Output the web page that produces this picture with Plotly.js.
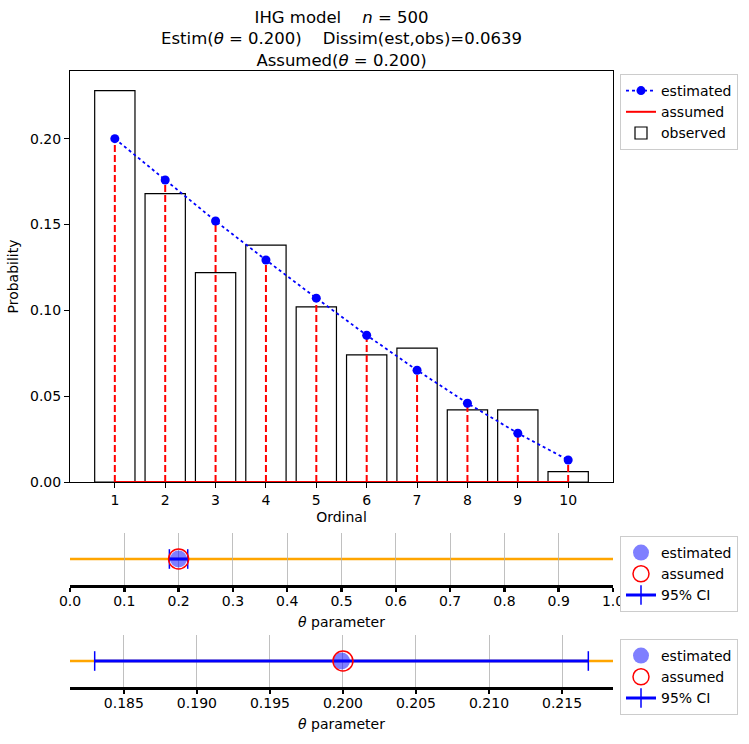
<!DOCTYPE html>
<html>
<head>
<meta charset="utf-8">
<script src="https://cdn.plot.ly/plotly-3.0.1.min.js"></script>
<style>html,body{margin:0;padding:0;background:#fff}#chart{width:749px;height:744px}</style>
</head>
<body>
<div id="chart"></div>
<script>
// ---- data ----
const ordinals = [1, 2, 3, 4, 5, 6, 7, 8, 9, 10];
const observed = [0.228, 0.168, 0.122, 0.138, 0.102, 0.074, 0.078, 0.042, 0.042, 0.006];
const estimated = [0.2000, 0.1759, 0.1520, 0.1293, 0.1071, 0.0855, 0.0651, 0.0459, 0.0284, 0.0128];
const assumed = [0.2000, 0.1759, 0.1520, 0.1293, 0.1071, 0.0855, 0.0651, 0.0459, 0.0284, 0.0128];
const thetaEst = [0.1999];
const thetaAssumed = [0.200];
const ciLow = [0.1830];
const ciHigh = [0.2168];
const panelY = [0];

// ---- helpers ----
const stemX = [], stemY = [];
ordinals.forEach((o, i) => { stemX.push(o, o, null); stemY.push(0, assumed[i], null); });
const baseX = [ordinals[0], ordinals[ordinals.length - 1]];
const baseY = [0, 0];
const ciSpan = ciHigh[0] - ciLow[0];
const zoomRange = [ciLow[0] - 0.05 * ciSpan, ciHigh[0] + 0.05 * ciSpan];

const F = 'DejaVu Sans, sans-serif';
const blue = '#0000ff', red = '#ff0000';

const traces = [
  {type: 'bar', x: ordinals, y: observed, width: 0.8, name: 'observed',
   marker: {color: 'rgba(255,255,255,1)', line: {color: '#000', width: 1.2}},
   xaxis: 'x', yaxis: 'y', legend: 'legend', legendrank: 3, hoverinfo: 'x+y'},
  {type: 'scatter', mode: 'lines', x: stemX, y: stemY, name: 'assumed stems',
   line: {color: red, width: 2, dash: '7px,3px'}, showlegend: false,
   xaxis: 'x', yaxis: 'y'},
  {type: 'scatter', mode: 'lines', x: baseX, y: baseY, name: 'assumed',
   line: {color: red, width: 2}, xaxis: 'x', yaxis: 'y', legend: 'legend', legendrank: 2},
  {type: 'scatter', mode: 'lines+markers', x: ordinals, y: estimated, name: 'estimated',
   line: {color: blue, width: 1.8, dash: 'dot'}, marker: {color: blue, size: 9},
   xaxis: 'x', yaxis: 'y', legend: 'legend', legendrank: 1},

  // panel 2
  {type: 'scatter', mode: 'lines+markers', x: [ciLow[0], ciHigh[0]], y: [panelY[0], panelY[0]], name: '95% CI',
   line: {color: blue, width: 3}, marker: {symbol: 'line-ns-open', size: 14, color: blue, line: {color: blue, width: 1.5}},
   xaxis: 'x2', yaxis: 'y2', legend: 'legend2', legendrank: 3},
  {type: 'scatter', mode: 'markers', x: thetaEst, y: panelY, name: 'estimated',
   marker: {color: 'rgba(0,0,255,0.5)', size: 17},
   xaxis: 'x2', yaxis: 'y2', legend: 'legend2', legendrank: 1},
  {type: 'scatter', mode: 'markers', x: thetaAssumed, y: panelY, name: 'assumed',
   marker: {color: 'rgba(0,0,0,0)', size: 20, line: {color: red, width: 1.5}},
   xaxis: 'x2', yaxis: 'y2', legend: 'legend2', legendrank: 2},

  // panel 3
  {type: 'scatter', mode: 'lines+markers', x: [ciLow[0], ciHigh[0]], y: [panelY[0], panelY[0]], name: '95% CI',
   line: {color: blue, width: 3}, marker: {symbol: 'line-ns-open', size: 14, color: blue, line: {color: blue, width: 1.5}},
   xaxis: 'x3', yaxis: 'y3', legend: 'legend3', legendrank: 3},
  {type: 'scatter', mode: 'markers', x: thetaEst, y: panelY, name: 'estimated',
   marker: {color: 'rgba(0,0,255,0.5)', size: 17},
   xaxis: 'x3', yaxis: 'y3', legend: 'legend3', legendrank: 1},
  {type: 'scatter', mode: 'markers', x: thetaAssumed, y: panelY, name: 'assumed',
   marker: {color: 'rgba(0,0,0,0)', size: 20, line: {color: red, width: 1.5}},
   xaxis: 'x3', yaxis: 'y3', legend: 'legend3', legendrank: 2}
];

const xDom = [70 / 749, 613 / 749];
const dom = (top, bot) => [1 - bot / 744, 1 - top / 744];
const legendCommon = {xanchor: 'left', yanchor: 'top', bgcolor: '#fff', bordercolor: '#cccccc', borderwidth: 1,
  font: {family: F, size: 14, color: '#000'}, traceorder: 'normal', itemwidth: 30, tracegroupgap: 0};
const lowX = {showgrid: true, gridcolor: '#b0b0b0', gridwidth: 0.8, showline: true, linecolor: '#000', linewidth: 2.5,
  ticks: 'outside', ticklen: 4, tickwidth: 2.5, tickcolor: '#000', zeroline: false, ticklabelstandoff: -2,
  tickfont: {family: F, size: 14, color: '#000'}};
const lowY = {range: [-1, 1], showgrid: false, zeroline: false, showline: false, showticklabels: false, ticks: ''};

const layout = {
  width: 749, height: 744, margin: {l: 0, r: 0, t: 0, b: 0},
  paper_bgcolor: '#fff', plot_bgcolor: '#fff', font: {family: F, color: '#000'},
  bargap: 0,
  title: {text: 'IHG model\u00a0\u00a0\u00a0\u00a0<i>n</i> = 500<br>Estim(<i>θ</i> = 0.200)\u00a0\u00a0\u00a0\u00a0Dissim(est,obs)=0.0639<br>Assumed(<i>θ</i> = 0.200)',
    x: 341.5 / 749, xanchor: 'center', xref: 'paper', y: 1 - 23 / 744, yanchor: 'middle', yref: 'paper',
    font: {family: F, size: 16.5, color: '#000'}},
  xaxis: {domain: xDom, anchor: 'y', range: [0.11, 10.89], tickvals: ordinals, showgrid: false, zeroline: false,
    showline: true, mirror: true, linecolor: '#000', linewidth: 1, ticks: 'outside', ticklen: 5, tickcolor: '#000',
    layer: 'below traces',
    tickfont: {family: F, size: 14, color: '#000'},
    title: {text: 'Ordinal', font: {family: F, size: 14, color: '#000'}, standoff: 5}},
  yaxis: {domain: dom(71, 482), anchor: 'x', range: [0, 0.2394], dtick: 0.05, tickformat: '.2f', showgrid: false, zeroline: false,
    showline: true, mirror: true, linecolor: '#000', linewidth: 1, ticks: 'outside', ticklen: 5, tickcolor: '#000',
    layer: 'below traces',
    tickfont: {family: F, size: 14, color: '#000'},
    title: {text: 'Probability', font: {family: F, size: 14, color: '#000'}, standoff: 8}},
  xaxis2: Object.assign({}, lowX, {domain: xDom, anchor: 'y2', range: [0, 1], dtick: 0.1, tickformat: '.1f',
    title: {text: '<i>θ</i> parameter', font: {family: F, size: 14, color: '#000'}, standoff: 9}}),
  yaxis2: Object.assign({}, lowY, {domain: dom(533, 585), anchor: 'x2'}),
  xaxis3: Object.assign({}, lowX, {domain: xDom, anchor: 'y3', range: zoomRange, dtick: 0.005, tick0: 0, tickformat: '.3f',
    title: {text: '<i>θ</i> parameter', font: {family: F, size: 14, color: '#000'}, standoff: 9}}),
  yaxis3: Object.assign({}, lowY, {domain: dom(635, 687), anchor: 'x3'}),
  legend: Object.assign({}, legendCommon, {x: 620 / 749, y: 1 - 74 / 744}),
  legend2: Object.assign({}, legendCommon, {x: 620 / 749, y: 1 - 536 / 744}),
  legend3: Object.assign({}, legendCommon, {x: 620 / 749, y: 1 - 639 / 744}),
  shapes: [
    {type: 'line', xref: 'x2 domain', yref: 'y2', x0: 0, x1: 1, y0: 0, y1: 0, line: {color: 'orange', width: 2.5}, layer: 'below'},
    {type: 'line', xref: 'x3 domain', yref: 'y3', x0: 0, x1: 1, y0: 0, y1: 0, line: {color: 'orange', width: 2.5}, layer: 'below'}
  ],
  showlegend: true
};

Plotly.newPlot('chart', traces, layout, {displayModeBar: false, staticPlot: true});
</script>
</body>
</html>
